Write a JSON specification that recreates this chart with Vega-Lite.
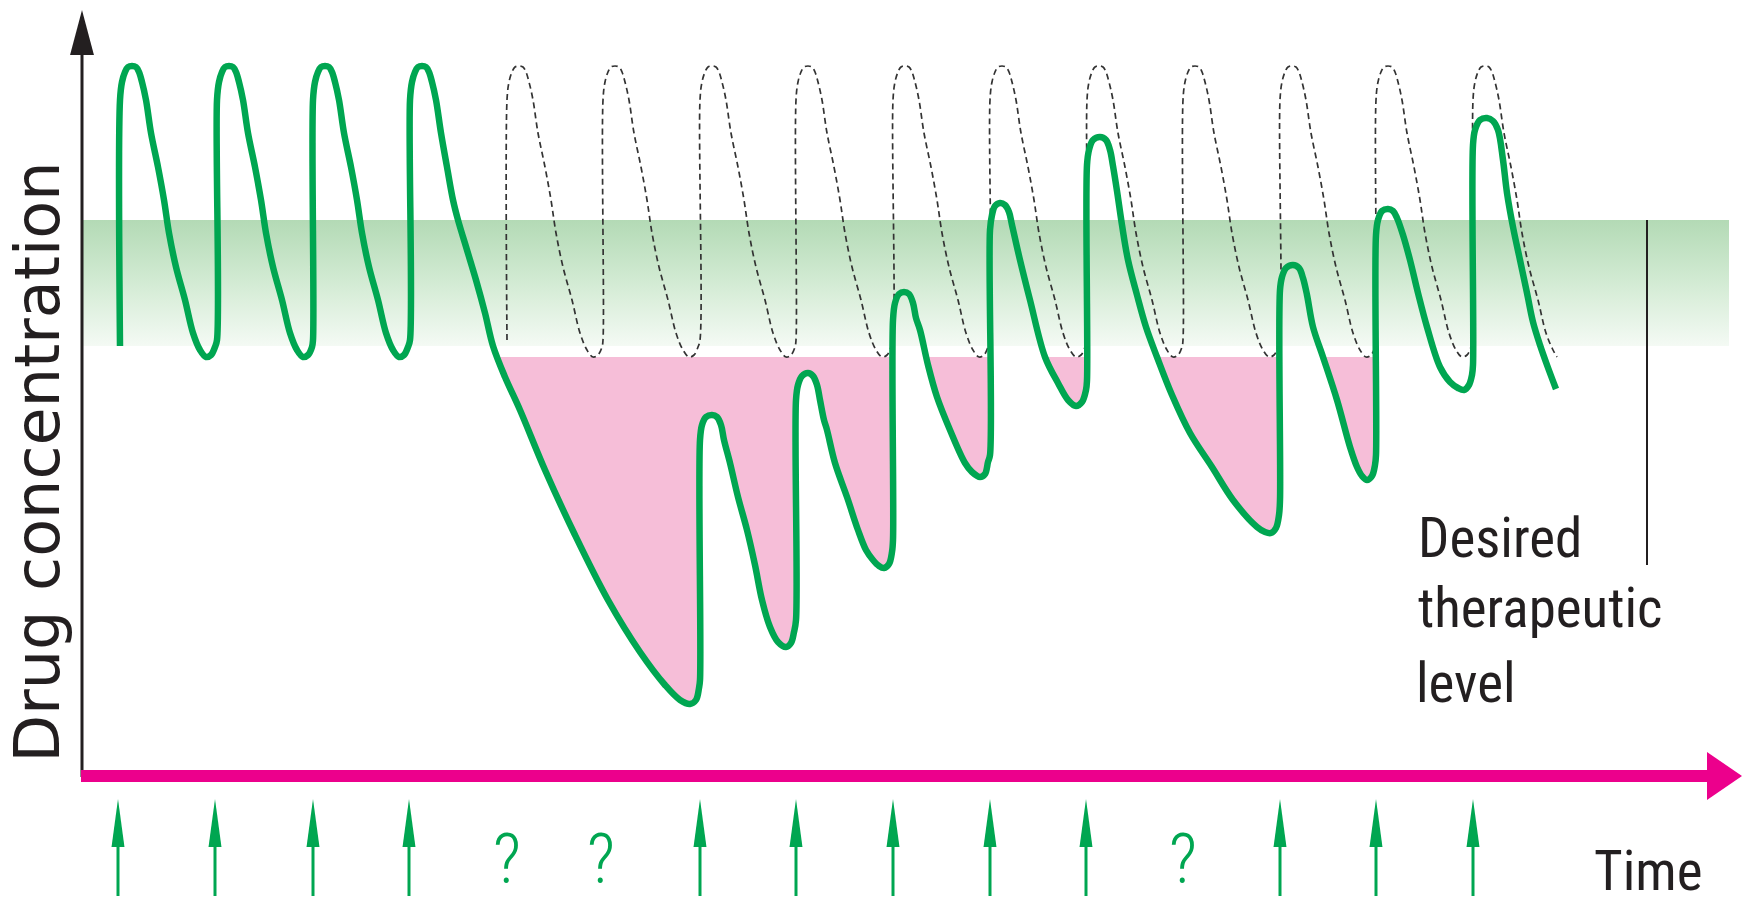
{
  "$schema": "https://vega.github.io/schema/vega-lite/v6.json",
  "width": 1743,
  "height": 903,
  "padding": 0,
  "autosize": {"type": "none"},
  "background": "#ffffff",
  "config": {"view": {"stroke": null}},
  "datasets": {
    "therapeuticBand": [{"t": 82, "t2": 1729, "c": 556, "c2": 430}],
    "pink": [
      {"seg": "A", "t": 497, "c": 419}, {"seg": "A", "t": 505, "c": 399}, {"seg": "A", "t": 520, "c": 366}, {"seg": "A", "t": 545, "c": 306}, {"seg": "A", "t": 575, "c": 241}, {"seg": "A", "t": 608, "c": 176}, {"seg": "A", "t": 640, "c": 124}, {"seg": "A", "t": 665, "c": 91}, {"seg": "A", "t": 680, "c": 76}, {"seg": "A", "t": 690, "c": 72}, {"seg": "A", "t": 696, "c": 76}, {"seg": "A", "t": 699, "c": 88}, {"seg": "A", "t": 700, "c": 96}, {"seg": "A", "t": 700, "c": 336}, {"seg": "A", "t": 702, "c": 351}, {"seg": "A", "t": 706, "c": 359}, {"seg": "A", "t": 712, "c": 361}, {"seg": "A", "t": 717, "c": 359}, {"seg": "A", "t": 721, "c": 351}, {"seg": "A", "t": 724, "c": 336}, {"seg": "A", "t": 730, "c": 313}, {"seg": "A", "t": 738, "c": 279}, {"seg": "A", "t": 747, "c": 246}, {"seg": "A", "t": 755, "c": 211}, {"seg": "A", "t": 762, "c": 176}, {"seg": "A", "t": 770, "c": 149}, {"seg": "A", "t": 778, "c": 134}, {"seg": "A", "t": 786, "c": 129}, {"seg": "A", "t": 791, "c": 133}, {"seg": "A", "t": 794, "c": 144}, {"seg": "A", "t": 796, "c": 156}, {"seg": "A", "t": 796, "c": 376}, {"seg": "A", "t": 798, "c": 391}, {"seg": "A", "t": 802, "c": 400}, {"seg": "A", "t": 808, "c": 403}, {"seg": "A", "t": 813, "c": 400}, {"seg": "A", "t": 817, "c": 391}, {"seg": "A", "t": 820, "c": 376}, {"seg": "A", "t": 824, "c": 356}, {"seg": "A", "t": 827, "c": 346}, {"seg": "A", "t": 835, "c": 313}, {"seg": "A", "t": 847, "c": 279}, {"seg": "A", "t": 858, "c": 246}, {"seg": "A", "t": 866, "c": 226}, {"seg": "A", "t": 873, "c": 216}, {"seg": "A", "t": 879, "c": 210}, {"seg": "A", "t": 884, "c": 208}, {"seg": "A", "t": 889, "c": 212}, {"seg": "A", "t": 892, "c": 224}, {"seg": "A", "t": 893, "c": 236}, {"seg": "A", "t": 893, "c": 419},
      {"seg": "B", "t": 926, "c": 419}, {"seg": "B", "t": 928, "c": 411}, {"seg": "B", "t": 937, "c": 379}, {"seg": "B", "t": 950, "c": 346}, {"seg": "B", "t": 965, "c": 313}, {"seg": "B", "t": 972, "c": 304}, {"seg": "B", "t": 980, "c": 299}, {"seg": "B", "t": 985, "c": 302}, {"seg": "B", "t": 988, "c": 314}, {"seg": "B", "t": 990, "c": 321}, {"seg": "B", "t": 990, "c": 419},
      {"seg": "C", "t": 1045, "c": 419}, {"seg": "C", "t": 1058, "c": 393}, {"seg": "C", "t": 1068, "c": 376}, {"seg": "C", "t": 1076, "c": 370}, {"seg": "C", "t": 1082, "c": 374}, {"seg": "C", "t": 1086, "c": 386}, {"seg": "C", "t": 1087, "c": 396}, {"seg": "C", "t": 1087, "c": 419},
      {"seg": "D", "t": 1157, "c": 419}, {"seg": "D", "t": 1172, "c": 381}, {"seg": "D", "t": 1190, "c": 343}, {"seg": "D", "t": 1212, "c": 309}, {"seg": "D", "t": 1233, "c": 276}, {"seg": "D", "t": 1257, "c": 249}, {"seg": "D", "t": 1265, "c": 244}, {"seg": "D", "t": 1271, "c": 243}, {"seg": "D", "t": 1276, "c": 248}, {"seg": "D", "t": 1279, "c": 261}, {"seg": "D", "t": 1280, "c": 276}, {"seg": "D", "t": 1280, "c": 419},
      {"seg": "E", "t": 1323, "c": 419}, {"seg": "E", "t": 1337, "c": 376}, {"seg": "E", "t": 1350, "c": 329}, {"seg": "E", "t": 1357, "c": 309}, {"seg": "E", "t": 1362, "c": 300}, {"seg": "E", "t": 1367, "c": 296}, {"seg": "E", "t": 1372, "c": 300}, {"seg": "E", "t": 1375, "c": 311}, {"seg": "E", "t": 1376, "c": 321}, {"seg": "E", "t": 1376, "c": 419}
    ],
    "ideal": [
      {"t": 507, "c": 436}, {"t": 507, "c": 676}, {"t": 509, "c": 694}, {"t": 512, "c": 704}, {"t": 515, "c": 709}, {"t": 519, "c": 710}, {"t": 523, "c": 709}, {"t": 526, "c": 704}, {"t": 529, "c": 694}, {"t": 533, "c": 676}, {"t": 538, "c": 643}, {"t": 545, "c": 609}, {"t": 551, "c": 576}, {"t": 556, "c": 543}, {"t": 563, "c": 509}, {"t": 572, "c": 476}, {"t": 580, "c": 443}, {"t": 587, "c": 426}, {"t": 593, "c": 419}, {"t": 598, "c": 421}, {"t": 602, "c": 429},
      {"t": 603, "c": 436}, {"t": 603, "c": 676}, {"t": 605, "c": 694}, {"t": 608, "c": 704}, {"t": 611, "c": 709}, {"t": 615, "c": 710}, {"t": 619, "c": 709}, {"t": 622, "c": 704}, {"t": 625, "c": 694}, {"t": 629, "c": 676}, {"t": 634, "c": 643}, {"t": 641, "c": 609}, {"t": 647, "c": 576}, {"t": 652, "c": 543}, {"t": 659, "c": 509}, {"t": 668, "c": 476}, {"t": 676, "c": 443}, {"t": 683, "c": 426}, {"t": 689, "c": 419}, {"t": 694, "c": 421}, {"t": 698, "c": 429},
      {"t": 700, "c": 436}, {"t": 700, "c": 676}, {"t": 702, "c": 694}, {"t": 705, "c": 704}, {"t": 708, "c": 709}, {"t": 712, "c": 710}, {"t": 716, "c": 709}, {"t": 719, "c": 704}, {"t": 722, "c": 694}, {"t": 726, "c": 676}, {"t": 731, "c": 643}, {"t": 738, "c": 609}, {"t": 744, "c": 576}, {"t": 749, "c": 543}, {"t": 756, "c": 509}, {"t": 765, "c": 476}, {"t": 773, "c": 443}, {"t": 780, "c": 426}, {"t": 786, "c": 419}, {"t": 791, "c": 421}, {"t": 795, "c": 429},
      {"t": 796, "c": 436}, {"t": 796, "c": 676}, {"t": 798, "c": 694}, {"t": 801, "c": 704}, {"t": 804, "c": 709}, {"t": 808, "c": 710}, {"t": 812, "c": 709}, {"t": 815, "c": 704}, {"t": 818, "c": 694}, {"t": 822, "c": 676}, {"t": 827, "c": 643}, {"t": 834, "c": 609}, {"t": 840, "c": 576}, {"t": 845, "c": 543}, {"t": 852, "c": 509}, {"t": 861, "c": 476}, {"t": 869, "c": 443}, {"t": 876, "c": 426}, {"t": 882, "c": 419}, {"t": 887, "c": 421}, {"t": 891, "c": 429},
      {"t": 893, "c": 436}, {"t": 893, "c": 676}, {"t": 895, "c": 694}, {"t": 898, "c": 704}, {"t": 901, "c": 709}, {"t": 905, "c": 710}, {"t": 909, "c": 709}, {"t": 912, "c": 704}, {"t": 915, "c": 694}, {"t": 919, "c": 676}, {"t": 924, "c": 643}, {"t": 931, "c": 609}, {"t": 937, "c": 576}, {"t": 942, "c": 543}, {"t": 949, "c": 509}, {"t": 958, "c": 476}, {"t": 966, "c": 443}, {"t": 973, "c": 426}, {"t": 979, "c": 419}, {"t": 984, "c": 421}, {"t": 988, "c": 429},
      {"t": 990, "c": 436}, {"t": 990, "c": 676}, {"t": 992, "c": 694}, {"t": 995, "c": 704}, {"t": 998, "c": 709}, {"t": 1002, "c": 710}, {"t": 1006, "c": 709}, {"t": 1009, "c": 704}, {"t": 1012, "c": 694}, {"t": 1016, "c": 676}, {"t": 1021, "c": 643}, {"t": 1028, "c": 609}, {"t": 1034, "c": 576}, {"t": 1039, "c": 543}, {"t": 1046, "c": 509}, {"t": 1055, "c": 476}, {"t": 1063, "c": 443}, {"t": 1070, "c": 426}, {"t": 1076, "c": 419}, {"t": 1081, "c": 421}, {"t": 1085, "c": 429},
      {"t": 1087, "c": 436}, {"t": 1087, "c": 676}, {"t": 1089, "c": 694}, {"t": 1092, "c": 704}, {"t": 1095, "c": 709}, {"t": 1099, "c": 710}, {"t": 1103, "c": 709}, {"t": 1106, "c": 704}, {"t": 1109, "c": 694}, {"t": 1113, "c": 676}, {"t": 1118, "c": 643}, {"t": 1125, "c": 609}, {"t": 1131, "c": 576}, {"t": 1136, "c": 543}, {"t": 1143, "c": 509}, {"t": 1152, "c": 476}, {"t": 1160, "c": 443}, {"t": 1167, "c": 426}, {"t": 1173, "c": 419}, {"t": 1178, "c": 421}, {"t": 1182, "c": 429},
      {"t": 1183, "c": 436}, {"t": 1183, "c": 676}, {"t": 1185, "c": 694}, {"t": 1188, "c": 704}, {"t": 1191, "c": 709}, {"t": 1195, "c": 710}, {"t": 1199, "c": 709}, {"t": 1202, "c": 704}, {"t": 1205, "c": 694}, {"t": 1209, "c": 676}, {"t": 1214, "c": 643}, {"t": 1221, "c": 609}, {"t": 1227, "c": 576}, {"t": 1232, "c": 543}, {"t": 1239, "c": 509}, {"t": 1248, "c": 476}, {"t": 1256, "c": 443}, {"t": 1263, "c": 426}, {"t": 1269, "c": 419}, {"t": 1274, "c": 421}, {"t": 1278, "c": 429},
      {"t": 1280, "c": 436}, {"t": 1280, "c": 676}, {"t": 1282, "c": 694}, {"t": 1285, "c": 704}, {"t": 1288, "c": 709}, {"t": 1292, "c": 710}, {"t": 1296, "c": 709}, {"t": 1299, "c": 704}, {"t": 1302, "c": 694}, {"t": 1306, "c": 676}, {"t": 1311, "c": 643}, {"t": 1318, "c": 609}, {"t": 1324, "c": 576}, {"t": 1329, "c": 543}, {"t": 1336, "c": 509}, {"t": 1345, "c": 476}, {"t": 1353, "c": 443}, {"t": 1360, "c": 426}, {"t": 1366, "c": 419}, {"t": 1371, "c": 421}, {"t": 1375, "c": 429},
      {"t": 1376, "c": 436}, {"t": 1376, "c": 676}, {"t": 1378, "c": 694}, {"t": 1381, "c": 704}, {"t": 1384, "c": 709}, {"t": 1388, "c": 710}, {"t": 1392, "c": 709}, {"t": 1395, "c": 704}, {"t": 1398, "c": 694}, {"t": 1402, "c": 676}, {"t": 1407, "c": 643}, {"t": 1414, "c": 609}, {"t": 1420, "c": 576}, {"t": 1425, "c": 543}, {"t": 1432, "c": 509}, {"t": 1441, "c": 476}, {"t": 1449, "c": 443}, {"t": 1456, "c": 426}, {"t": 1462, "c": 419}, {"t": 1467, "c": 421}, {"t": 1471, "c": 429},
      {"t": 1473, "c": 436}, {"t": 1473, "c": 676}, {"t": 1475, "c": 694}, {"t": 1478, "c": 704}, {"t": 1481, "c": 709}, {"t": 1485, "c": 710}, {"t": 1489, "c": 709}, {"t": 1492, "c": 704}, {"t": 1495, "c": 694}, {"t": 1499, "c": 676}, {"t": 1504, "c": 643}, {"t": 1511, "c": 609}, {"t": 1517, "c": 576}, {"t": 1522, "c": 543}, {"t": 1529, "c": 509}, {"t": 1538, "c": 476}, {"t": 1546, "c": 443}, {"t": 1553, "c": 426}, {"t": 1557, "c": 419}
    ],
    "actual": [
      {"t": 120, "c": 430}, {"t": 120, "c": 676}, {"t": 122, "c": 694}, {"t": 125, "c": 704}, {"t": 128, "c": 709}, {"t": 132, "c": 710}, {"t": 136, "c": 709}, {"t": 139, "c": 704}, {"t": 142, "c": 694}, {"t": 146, "c": 676}, {"t": 151, "c": 643}, {"t": 158, "c": 609}, {"t": 164, "c": 576}, {"t": 169, "c": 543}, {"t": 176, "c": 509}, {"t": 185, "c": 476}, {"t": 193, "c": 443}, {"t": 200, "c": 426}, {"t": 206, "c": 419}, {"t": 211, "c": 421}, {"t": 215, "c": 429},
      {"t": 217, "c": 436}, {"t": 217, "c": 676}, {"t": 219, "c": 694}, {"t": 222, "c": 704}, {"t": 225, "c": 709}, {"t": 229, "c": 710}, {"t": 233, "c": 709}, {"t": 236, "c": 704}, {"t": 239, "c": 694}, {"t": 243, "c": 676}, {"t": 248, "c": 643}, {"t": 255, "c": 609}, {"t": 261, "c": 576}, {"t": 266, "c": 543}, {"t": 273, "c": 509}, {"t": 282, "c": 476}, {"t": 290, "c": 443}, {"t": 297, "c": 426}, {"t": 303, "c": 419}, {"t": 308, "c": 421}, {"t": 312, "c": 429},
      {"t": 313, "c": 436}, {"t": 313, "c": 676}, {"t": 315, "c": 694}, {"t": 318, "c": 704}, {"t": 321, "c": 709}, {"t": 325, "c": 710}, {"t": 329, "c": 709}, {"t": 332, "c": 704}, {"t": 335, "c": 694}, {"t": 339, "c": 676}, {"t": 344, "c": 643}, {"t": 351, "c": 609}, {"t": 357, "c": 576}, {"t": 362, "c": 543}, {"t": 369, "c": 509}, {"t": 378, "c": 476}, {"t": 386, "c": 443}, {"t": 393, "c": 426}, {"t": 399, "c": 419}, {"t": 404, "c": 421}, {"t": 408, "c": 429},
      {"t": 410, "c": 436}, {"t": 410, "c": 676}, {"t": 412, "c": 694}, {"t": 415, "c": 704}, {"t": 418, "c": 709}, {"t": 422, "c": 710}, {"t": 426, "c": 709}, {"t": 429, "c": 704}, {"t": 432, "c": 694}, {"t": 436, "c": 676}, {"t": 441, "c": 643}, {"t": 447, "c": 609}, {"t": 453, "c": 576}, {"t": 458, "c": 556}, {"t": 467, "c": 526}, {"t": 476, "c": 496}, {"t": 485, "c": 463}, {"t": 493, "c": 430}, {"t": 505, "c": 399}, {"t": 520, "c": 366}, {"t": 545, "c": 306}, {"t": 575, "c": 241}, {"t": 608, "c": 176}, {"t": 640, "c": 124}, {"t": 665, "c": 91}, {"t": 680, "c": 76}, {"t": 690, "c": 72}, {"t": 696, "c": 76}, {"t": 699, "c": 88},
      {"t": 700, "c": 96}, {"t": 700, "c": 336}, {"t": 702, "c": 351}, {"t": 706, "c": 359}, {"t": 712, "c": 361}, {"t": 717, "c": 359}, {"t": 721, "c": 351}, {"t": 724, "c": 336}, {"t": 730, "c": 313}, {"t": 738, "c": 279}, {"t": 747, "c": 246}, {"t": 755, "c": 211}, {"t": 762, "c": 176}, {"t": 770, "c": 149}, {"t": 778, "c": 134}, {"t": 786, "c": 129}, {"t": 791, "c": 133}, {"t": 794, "c": 144},
      {"t": 796, "c": 156}, {"t": 796, "c": 376}, {"t": 798, "c": 391}, {"t": 802, "c": 400}, {"t": 808, "c": 403}, {"t": 813, "c": 400}, {"t": 817, "c": 391}, {"t": 820, "c": 376}, {"t": 824, "c": 356}, {"t": 827, "c": 346}, {"t": 835, "c": 313}, {"t": 847, "c": 279}, {"t": 858, "c": 246}, {"t": 866, "c": 226}, {"t": 873, "c": 216}, {"t": 879, "c": 210}, {"t": 884, "c": 208}, {"t": 889, "c": 212}, {"t": 892, "c": 224},
      {"t": 893, "c": 236}, {"t": 893, "c": 456}, {"t": 895, "c": 473}, {"t": 899, "c": 482}, {"t": 904, "c": 484}, {"t": 909, "c": 482}, {"t": 913, "c": 473}, {"t": 916, "c": 458}, {"t": 920, "c": 446}, {"t": 928, "c": 411}, {"t": 937, "c": 379}, {"t": 950, "c": 346}, {"t": 965, "c": 313}, {"t": 972, "c": 304}, {"t": 980, "c": 299}, {"t": 985, "c": 302}, {"t": 988, "c": 314},
      {"t": 990, "c": 321}, {"t": 990, "c": 546}, {"t": 992, "c": 561}, {"t": 995, "c": 570}, {"t": 1000, "c": 573}, {"t": 1005, "c": 571}, {"t": 1009, "c": 564}, {"t": 1012, "c": 551}, {"t": 1020, "c": 516}, {"t": 1030, "c": 476}, {"t": 1045, "c": 419}, {"t": 1058, "c": 393}, {"t": 1068, "c": 376}, {"t": 1076, "c": 370}, {"t": 1082, "c": 374}, {"t": 1086, "c": 386},
      {"t": 1087, "c": 396}, {"t": 1087, "c": 611}, {"t": 1089, "c": 626}, {"t": 1093, "c": 636}, {"t": 1100, "c": 639}, {"t": 1106, "c": 636}, {"t": 1110, "c": 626}, {"t": 1113, "c": 610}, {"t": 1117, "c": 585}, {"t": 1122, "c": 551}, {"t": 1128, "c": 516}, {"t": 1137, "c": 481}, {"t": 1146, "c": 449}, {"t": 1157, "c": 419}, {"t": 1172, "c": 381}, {"t": 1190, "c": 343}, {"t": 1212, "c": 309}, {"t": 1233, "c": 276}, {"t": 1257, "c": 249}, {"t": 1265, "c": 244}, {"t": 1271, "c": 243}, {"t": 1276, "c": 248}, {"t": 1279, "c": 261},
      {"t": 1280, "c": 276}, {"t": 1280, "c": 486}, {"t": 1282, "c": 499}, {"t": 1286, "c": 508}, {"t": 1293, "c": 511}, {"t": 1299, "c": 508}, {"t": 1303, "c": 498}, {"t": 1307, "c": 481}, {"t": 1313, "c": 449}, {"t": 1323, "c": 419}, {"t": 1337, "c": 376}, {"t": 1350, "c": 329}, {"t": 1357, "c": 309}, {"t": 1362, "c": 300}, {"t": 1367, "c": 296}, {"t": 1372, "c": 300}, {"t": 1375, "c": 311},
      {"t": 1376, "c": 321}, {"t": 1376, "c": 541}, {"t": 1378, "c": 556}, {"t": 1382, "c": 565}, {"t": 1388, "c": 567}, {"t": 1393, "c": 565}, {"t": 1397, "c": 558}, {"t": 1403, "c": 541}, {"t": 1410, "c": 516}, {"t": 1418, "c": 483}, {"t": 1427, "c": 449}, {"t": 1440, "c": 409}, {"t": 1450, "c": 394}, {"t": 1458, "c": 388}, {"t": 1464, "c": 386}, {"t": 1469, "c": 391}, {"t": 1472, "c": 401},
      {"t": 1473, "c": 411}, {"t": 1473, "c": 631}, {"t": 1475, "c": 646}, {"t": 1480, "c": 656}, {"t": 1487, "c": 658}, {"t": 1493, "c": 655}, {"t": 1498, "c": 646}, {"t": 1503, "c": 616}, {"t": 1507, "c": 583}, {"t": 1513, "c": 549}, {"t": 1520, "c": 516}, {"t": 1527, "c": 483}, {"t": 1533, "c": 454}, {"t": 1540, "c": 431}, {"t": 1547, "c": 411}, {"t": 1556, "c": 387}
    ],
    "doses": [{"t": 118}, {"t": 215}, {"t": 313}, {"t": 409}, {"t": 700}, {"t": 796}, {"t": 893}, {"t": 990}, {"t": 1086}, {"t": 1280}, {"t": 1376}, {"t": 1473}],
    "missed": [{"t": 507, "text": "?"}, {"t": 601, "text": "?"}, {"t": 1183, "text": "?"}],
    "labels": [
      {"t": 1418, "c": 219, "text": "Desired"},
      {"t": 1418, "c": 149, "text": "therapeutic"},
      {"t": 1416, "c": 74, "text": "level"},
      {"t": 1594, "c": -114, "text": "Time"}
    ],
    "yTitle": [{"t": 59, "c": 314, "text": "Drug concentration"}],
    "one": [{"k": 1}]
  },
  "layer": [
    {
      "data": {"name": "therapeuticBand"},
      "mark": {"type": "rect", "fill": {"gradient": "linear", "x1": 0, "y1": 0, "x2": 0, "y2": 1, "stops": [{"offset": 0, "color": "#b3dab5"}, {"offset": 0.5, "color": "#d3ebd4"}, {"offset": 1, "color": "#f4faf4"}]}},
      "encoding": {
        "x": {"field": "t", "type": "quantitative", "scale": {"domain": [0, 1743], "nice": false, "zero": false}, "axis": null},
        "x2": {"field": "t2"},
        "y": {"field": "c", "type": "quantitative", "scale": {"domain": [-127, 776], "nice": false, "zero": false}, "axis": null},
        "y2": {"field": "c2"}
      }
    },
    {
      "data": {"name": "pink"},
      "mark": {"type": "area", "color": "#f6bed8", "interpolate": "catmull-rom"},
      "encoding": {
        "x": {"field": "t", "type": "quantitative", "scale": {"domain": [0, 1743], "nice": false, "zero": false}, "axis": null},
        "y": {"field": "c", "type": "quantitative", "scale": {"domain": [-127, 776], "nice": false, "zero": false}, "axis": null},
        "y2": {"datum": 419},
        "detail": {"field": "seg"}
      }
    },
    {
      "data": {"name": "ideal"},
      "mark": {"type": "line", "stroke": "#333333", "strokeWidth": 1.7, "strokeDash": [6, 4], "interpolate": "catmull-rom"},
      "encoding": {
        "x": {"field": "t", "type": "quantitative", "scale": {"domain": [0, 1743], "nice": false, "zero": false}, "axis": null},
        "y": {"field": "c", "type": "quantitative", "scale": {"domain": [-127, 776], "nice": false, "zero": false}, "axis": null},
        "order": {"value": null}
      }
    },
    {
      "data": {"name": "actual"},
      "mark": {"type": "line", "stroke": "#00a651", "strokeWidth": 6.5, "strokeJoin": "round", "strokeCap": "butt", "interpolate": "catmull-rom"},
      "encoding": {
        "x": {"field": "t", "type": "quantitative", "scale": {"domain": [0, 1743], "nice": false, "zero": false}, "axis": null},
        "y": {"field": "c", "type": "quantitative", "scale": {"domain": [-127, 776], "nice": false, "zero": false}, "axis": null},
        "order": {"value": null}
      }
    },
    {
      "data": {"name": "one"},
      "mark": {"type": "rule", "stroke": "#231f20", "strokeWidth": 2},
      "encoding": {
        "x": {"datum": 1647, "type": "quantitative", "scale": {"domain": [0, 1743], "nice": false, "zero": false}, "axis": null},
        "y": {"datum": 556, "type": "quantitative", "scale": {"domain": [-127, 776], "nice": false, "zero": false}, "axis": null},
        "y2": {"datum": 211}
      }
    },
    {
      "data": {"name": "one"},
      "mark": {"type": "rule", "stroke": "#231f20", "strokeWidth": 3},
      "encoding": {
        "x": {"datum": 82, "type": "quantitative", "scale": {"domain": [0, 1743], "nice": false, "zero": false}, "axis": null},
        "y": {"datum": -1, "type": "quantitative", "scale": {"domain": [-127, 776], "nice": false, "zero": false}, "axis": null},
        "y2": {"datum": 724}
      }
    },
    {
      "data": {"name": "one"},
      "mark": {"type": "point", "shape": "M-0.53,1L0,-1L0.53,1Z", "filled": true, "fill": "#231f20", "opacity": 1, "strokeWidth": 0, "size": 2025},
      "encoding": {
        "x": {"datum": 82, "type": "quantitative", "scale": {"domain": [0, 1743], "nice": false, "zero": false}, "axis": null},
        "y": {"datum": 743.5, "type": "quantitative", "scale": {"domain": [-127, 776], "nice": false, "zero": false}, "axis": null}
      }
    },
    {
      "data": {"name": "one"},
      "mark": {"type": "rule", "stroke": "#ec008c", "strokeWidth": 12},
      "encoding": {
        "x": {"datum": 81, "type": "quantitative", "scale": {"domain": [0, 1743], "nice": false, "zero": false}, "axis": null},
        "x2": {"datum": 1712},
        "y": {"datum": 0, "type": "quantitative", "scale": {"domain": [-127, 776], "nice": false, "zero": false}, "axis": null}
      }
    },
    {
      "data": {"name": "one"},
      "mark": {"type": "point", "shape": "M-0.73,-1L0.73,0L-0.73,1Z", "filled": true, "fill": "#ec008c", "opacity": 1, "strokeWidth": 0, "size": 2304},
      "encoding": {
        "x": {"datum": 1724.5, "type": "quantitative", "scale": {"domain": [0, 1743], "nice": false, "zero": false}, "axis": null},
        "y": {"datum": 0, "type": "quantitative", "scale": {"domain": [-127, 776], "nice": false, "zero": false}, "axis": null}
      }
    },
    {
      "data": {"name": "doses"},
      "mark": {"type": "rule", "stroke": "#00a651", "strokeWidth": 3},
      "encoding": {
        "x": {"field": "t", "type": "quantitative", "scale": {"domain": [0, 1743], "nice": false, "zero": false}, "axis": null},
        "y": {"datum": -70, "type": "quantitative", "scale": {"domain": [-127, 776], "nice": false, "zero": false}, "axis": null},
        "y2": {"datum": -120}
      }
    },
    {
      "data": {"name": "doses"},
      "mark": {"type": "point", "shape": "M-0.27,1L0,-1L0.27,1Z", "filled": true, "fill": "#00a651", "opacity": 1, "strokeWidth": 0, "size": 2304},
      "encoding": {
        "x": {"field": "t", "type": "quantitative", "scale": {"domain": [0, 1743], "nice": false, "zero": false}, "axis": null},
        "y": {"datum": -47, "type": "quantitative", "scale": {"domain": [-127, 776], "nice": false, "zero": false}, "axis": null}
      }
    },
    {
      "data": {"name": "missed"},
      "mark": {"type": "text", "font": "Roboto Condensed, DejaVu Sans Condensed, Liberation Sans Narrow, Liberation Sans, sans-serif", "fontSize": 70, "fontWeight": 300, "fill": "#00a651", "align": "center", "baseline": "alphabetic"},
      "encoding": {
        "x": {"field": "t", "type": "quantitative", "scale": {"domain": [0, 1743], "nice": false, "zero": false}, "axis": null},
        "y": {"datum": -107, "type": "quantitative", "scale": {"domain": [-127, 776], "nice": false, "zero": false}, "axis": null},
        "text": {"field": "text"}
      }
    },
    {
      "data": {"name": "labels"},
      "mark": {"type": "text", "font": "Roboto Condensed, DejaVu Sans Condensed, Liberation Sans Narrow, Liberation Sans, sans-serif", "fontSize": 55, "fill": "#231f20", "align": "left", "baseline": "alphabetic"},
      "encoding": {
        "x": {"field": "t", "type": "quantitative", "scale": {"domain": [0, 1743], "nice": false, "zero": false}, "axis": null},
        "y": {"field": "c", "type": "quantitative", "scale": {"domain": [-127, 776], "nice": false, "zero": false}, "axis": null},
        "text": {"field": "text"}
      }
    },
    {
      "data": {"name": "yTitle"},
      "mark": {"type": "text", "font": "DejaVu Sans", "fontSize": 62, "fill": "#231f20", "align": "center", "baseline": "alphabetic", "angle": 270},
      "encoding": {
        "x": {"field": "t", "type": "quantitative", "scale": {"domain": [0, 1743], "nice": false, "zero": false}, "axis": null},
        "y": {"field": "c", "type": "quantitative", "scale": {"domain": [-127, 776], "nice": false, "zero": false}, "axis": null},
        "text": {"field": "text"}
      }
    }
  ]
}
